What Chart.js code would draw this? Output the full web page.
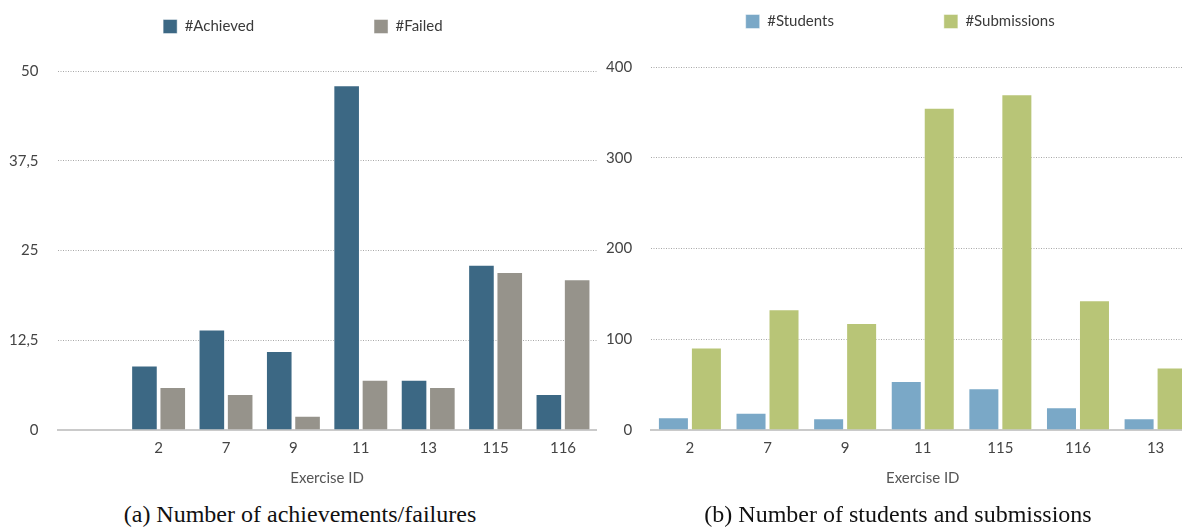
<!DOCTYPE html>
<html>
<head>
<meta charset="utf-8">
<script src="https://cdn.jsdelivr.net/npm/chart.js@4.4.0/dist/chart.umd.min.js"></script>
<style>
  html, body { margin: 0; padding: 0; background: #fff; }
  body { width: 1182px; height: 527px; overflow: hidden; position: relative; }
  canvas { position: absolute; top: 0; }
  #chartA { left: 0; }
  #chartB { left: 597px; }
  .cap { position: absolute; top: 501px; width: 600px; line-height: 26px;
         font: 24px "Liberation Serif", "Times New Roman", serif; color: #111; text-align: center; }
</style>
</head>
<body>
<canvas id="chartA" width="600" height="495"></canvas>
<canvas id="chartB" width="600" height="495"></canvas>
<div class="cap" style="left:0">(a) Number of achievements/failures</div>
<div class="cap" style="left:598px">(b) Number of students and submissions</div>
<script>
// data
const exercisesA = ['', '2', '7', '9', '11', '13', '115', '116'];
const achieved   = [null, 9, 14, 11, 48, 7, 23, 5];
const failed     = [null, 6, 5, 2, 7, 6, 22, 21];
const ticksA     = [0, 12.5, 25, 37.5, 50];

const exercisesB  = ['2', '7', '9', '11', '115', '116', '13'];
const students    = [14, 19, 13, 54, 46, 25, 13];
const submissions = [91, 133, 118, 355, 370, 143, 69];
const ticksB      = [0, 100, 200, 300, 400];

const FONT = 'Lato';
const TICK_PAD = 19;

function makeOptions(ticks, legendPad, topPad, spacer, padRight) {
  return {
    responsive: false,
    animation: false,
    layout: { padding: { top: topPad, left: 9, right: padRight, bottom: 4 } },
    plugins: {
      legend: {
        weight: 3000,
        labels: {
          boxWidth: 14, boxHeight: 14, padding: legendPad, color: '#3a3a3a',
          font: { family: FONT, size: 15 }
        }
      },
      // empty title only used as a gap between legend and plot
      title: { display: true, text: '', padding: { top: 0, bottom: spacer }, font: { size: 10, lineHeight: 1 } },
      tooltip: { enabled: false }
    },
    scales: {
      x: {
        grid: { display: false, drawTicks: false },
        border: { display: true, color: '#cacaca', width: 2 },
        ticks: { color: '#444', padding: 9, font: { family: FONT, size: 15 } },
        title: { display: true, text: 'Exercise ID', color: '#555', padding: { top: 3, bottom: 4 },
                 font: { family: FONT, size: 15 } }
      },
      y: {
        min: ticks[0],
        max: ticks[ticks.length - 1],
        afterBuildTicks: axis => { axis.ticks = ticks.map(v => ({ value: v })); },
        afterFit: axis => { axis.width -= TICK_PAD; },
        grid: {
          drawTicks: false,
          color: c => c.tick && c.tick.value === 0 ? 'rgba(0,0,0,0)' : '#a8a8a8'
        },
        border: { display: false, dash: [1, 1.5] },
        ticks: {
          color: '#444', padding: TICK_PAD, font: { family: FONT, size: 15 },
          callback: v => String(v).replace('.', ',')
        }
      }
    }
  };
}

new Chart(document.getElementById('chartA'), {
  type: 'bar',
  data: {
    labels: exercisesA,
    datasets: [
      { label: '#Achieved', data: achieved, backgroundColor: '#3c6884',
        borderColor: 'rgba(255,255,255,0.45)', borderWidth: 1, categoryPercentage: 0.84, barPercentage: 0.94 },
      { label: '#Failed', data: failed, backgroundColor: '#96938b',
        borderColor: 'rgba(255,255,255,0.45)', borderWidth: 1, categoryPercentage: 0.84, barPercentage: 0.94 }
    ]
  },
  options: makeOptions(ticksA, 120, -101, 17, 3.3)
});

new Chart(document.getElementById('chartB'), {
  type: 'bar',
  data: {
    labels: exercisesB,
    datasets: [
      { label: '#Students', data: students, backgroundColor: '#7aa8c7',
        borderColor: 'rgba(255,255,255,0.45)', borderWidth: 1, categoryPercentage: 0.85, barPercentage: 0.94 },
      { label: '#Submissions', data: submissions, backgroundColor: '#b8c577',
        borderColor: 'rgba(255,255,255,0.45)', borderWidth: 1, categoryPercentage: 0.85, barPercentage: 0.94 }
    ]
  },
  options: makeOptions(ticksB, 110, -96, 18, 2.6)
});
</script>
</body>
</html>
